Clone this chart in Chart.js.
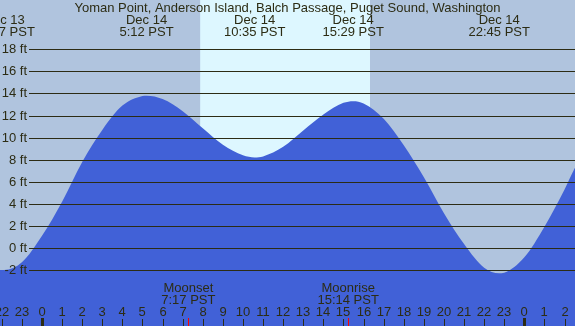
<!DOCTYPE html>
<html>
<head>
<meta charset="utf-8">
<script src="https://cdn.jsdelivr.net/npm/chart.js@4.4.1/dist/chart.umd.min.js"></script>
<style>
  html, body { margin: 0; padding: 0; overflow: hidden; background: #b0c4de; }
</style>
</head>
<body>
<canvas id="tideChart" width="575" height="326"></canvas>
<script>
// hours since Dec 14 00:00 PST, tide height in feet
const tideHours = [-2.6, -1.883, -1, 0, 1, 2, 3, 4, 5, 5.2, 6, 7, 8, 9, 10, 10.583, 11, 12, 13, 14, 15, 15.483, 16, 17, 18, 19, 20, 21, 22, 22.75, 23, 24, 25, 26, 26.5, 27];
const tideFeet = [-1.9, -2.0, -1.3, 1.1, 4.2, 7.8, 10.7, 12.9, 13.77, 13.8, 13.5, 12.4, 10.85, 9.35, 8.4, 8.2, 8.3, 9.17, 10.65, 12.1, 13.15, 13.3, 13.1, 11.7, 9.3, 6.4, 3.15, 0.35, -1.8, -2.3, -2.25, -0.85, 1.92, 5.3, 7.2, 8.6];

const extremeHours = [-1.883, 5.2, 10.583, 15.483, 22.75];
const extremeDates = ["Dec 13", "Dec 14", "Dec 14", "Dec 14", "Dec 14"];
const extremeTimes = ["22:07 PST", "5:12 PST", "10:35 PST", "15:29 PST", "22:45 PST"];

const sunrise = 7.87;
const sunset = 16.32;

const moonHours = [7.283, 15.233];
const moonNames = ["Moonset", "Moonrise"];
const moonTimes = ["7:17 PST", "15:14 PST"];

const feetTicks = [-2, 0, 2, 4, 6, 8, 10, 12, 14, 16, 18];
const hourTicks = [-2, -1, 0, 1, 2, 3, 4, 5, 6, 7, 8, 9, 10, 11, 12, 13, 14, 15, 16, 17, 18, 19, 20, 21, 22, 23, 24, 25, 26];

const title = "Yoman Point, Anderson Island, Balch Passage, Puget Sound, Washington";

const nightColor = "#b0c4de";
const dayColor = "#ddf7ff";
const waterColor = "#4161d7";
const inkColor = "#2c2c14";
const font = "13px 'Liberation Sans', Arial, sans-serif";

const backdrop = {
  id: "backdrop",
  beforeDatasetsDraw(chart) {
    const { ctx, chartArea, scales } = chart;
    ctx.save();
    ctx.fillStyle = nightColor;
    ctx.fillRect(0, 0, chart.width, chart.height);
    const x0 = scales.x.getPixelForValue(sunrise);
    const x1 = scales.x.getPixelForValue(sunset);
    ctx.fillStyle = dayColor;
    ctx.fillRect(x0, 0, x1 - x0, chart.height);
    ctx.restore();
  },
};

const overlay = {
  id: "overlay",
  afterDatasetsDraw(chart) {
    const { ctx, scales } = chart;
    const xs = scales.x;
    const ys = scales.y;
    ctx.save();
    ctx.font = font;
    ctx.fillStyle = inkColor;
    ctx.textBaseline = "middle";

    // depth lines and labels
    ctx.strokeStyle = inkColor;
    ctx.lineWidth = 1;
    feetTicks.forEach((ft) => {
      const y = Math.round(ys.getPixelForValue(ft)) + 0.5;
      ctx.beginPath();
      ctx.moveTo(29, y);
      ctx.lineTo(chart.width, y);
      ctx.stroke();
      ctx.textAlign = "right";
      ctx.fillText(ft + " ft", 27, y);
    });

    // title and high/low labels
    ctx.textAlign = "center";
    ctx.fillText(title, chart.width / 2, 8);
    extremeHours.forEach((h, i) => {
      const x = xs.getPixelForValue(h);
      ctx.fillText(extremeDates[i], x, 20);
      ctx.fillText(extremeTimes[i], x, 32);
    });

    // moon events
    moonHours.forEach((h, i) => {
      const x = xs.getPixelForValue(h);
      ctx.fillText(moonNames[i], x, 288);
      ctx.fillText(moonTimes[i], x, 300);
    });

    // hour labels and ticks
    hourTicks.forEach((h) => {
      const x = Math.round(xs.getPixelForValue(h));
      const label = String(((h % 24) + 24) % 24);
      ctx.fillText(label, x, 312);
      if (h % 24 === 0) {
        ctx.fillRect(x - 1, 318, 3, 8);
      } else {
        ctx.fillRect(x, 319, 1, 7);
      }
    });
    ctx.fillStyle = "#ff0000";
    moonHours.forEach((h) => {
      const x = Math.round(xs.getPixelForValue(h));
      ctx.fillRect(x, 318, 1, 8);
    });
    ctx.restore();
  },
};

new Chart(document.getElementById("tideChart"), {
  type: "line",
  data: {
    datasets: [
      {
        data: tideHours.map((h, i) => ({ x: h, y: tideFeet[i] })),
        fill: "start",
        backgroundColor: waterColor,
        borderWidth: 0,
        pointRadius: 0,
        cubicInterpolationMode: "monotone",
      },
    ],
  },
  options: {
    responsive: false,
    animation: false,
    devicePixelRatio: 1,
    layout: { padding: 0 },
    plugins: { legend: { display: false }, tooltip: { enabled: false } },
    scales: {
      x: { type: "linear", min: -2.09, max: 26.52, display: false },
      y: { type: "linear", min: -7.07, max: 22.47, display: false },
    },
  },
  plugins: [backdrop, overlay],
});
</script>
</body>
</html>
